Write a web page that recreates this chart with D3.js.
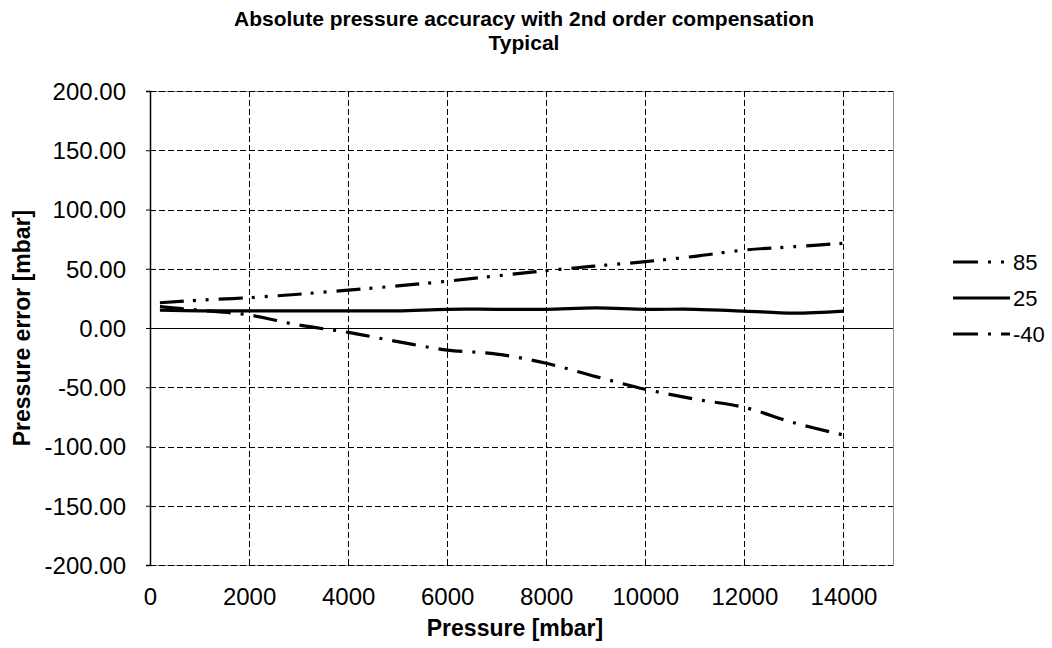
<!DOCTYPE html>
<html>
<head>
<meta charset="utf-8">
<script src="https://cdn.jsdelivr.net/npm/d3@7"></script>
<style>
  body { margin: 0; background: #fff; }
  text { font-family: "Liberation Sans", Arial, sans-serif; fill: #000; }
</style>
</head>
<body>
<div id="chart"></div>
<script>
// Data
const pressure = [200, 1000, 2000, 3000, 4000, 5000, 6000, 7000, 8000, 9000, 10000, 11000, 12000, 13000, 14000];
const err85 = [21.3, 23.5, 25.6, 28.5, 32, 35.5, 39.5, 44, 48.4, 52.3, 56, 60.5, 65.8, 68.6, 71.5];
const err25 = [15, 14.5, 14.5, 14.5, 14.5, 14.5, 15.8, 15.8, 15.8, 17, 15.8, 15.8, 14.3, 12.5, 14.3];
const errM40 = [18, 15, 11, 2.5, -3.7, -11.5, -18.6, -22, -29.8, -41, -51.7, -60, -67, -80, -90.3];
const seriesNames = ["85", "25", "-40"];
const xTicks = [0, 2000, 4000, 6000, 8000, 10000, 12000, 14000];
const yTicks = [-200, -150, -100, -50, 0, 50, 100, 150, 200];

const width = 1052, height = 648;
const plotLeft = 150, plotRight = 893, plotTop = 91, plotBottom = 565;

// plain hyphen for negatives, like the original
const locale = d3.formatLocale({ decimal: ".", thousands: ",", grouping: [3], currency: ["", ""], minus: "-" });

const svg = d3.select("#chart")
    .append("svg")
    .attr("width", width)
    .attr("height", height);

const x = d3.scaleLinear().domain([0, 15000]).range([plotLeft, plotRight]);
const y = d3.scaleLinear().domain([-200, 200]).range([plotBottom, plotTop]);
const crisp = v => Math.round(v) + 0.5;

// plot border (grey)
svg.append("rect")
    .attr("x", plotLeft + 0.5).attr("y", plotTop + 0.5)
    .attr("width", plotRight - plotLeft).attr("height", plotBottom - plotTop)
    .attr("fill", "none").attr("stroke", "#8c8c8c").attr("stroke-width", 1);

// horizontal grid
svg.append("g")
    .selectAll("line")
    .data(yTicks.filter(d => d !== 0))
    .enter().append("line")
    .attr("x1", plotLeft).attr("x2", plotRight)
    .attr("y1", d => crisp(y(d))).attr("y2", d => crisp(y(d)))
    .attr("stroke", "#000").attr("stroke-width", 1)
    .attr("stroke-dasharray", "6,3");

// vertical grid
svg.append("g")
    .selectAll("line")
    .data(xTicks.filter(d => d !== 0))
    .enter().append("line")
    .attr("x1", d => crisp(x(d))).attr("x2", d => crisp(x(d)))
    .attr("y1", plotTop).attr("y2", plotBottom)
    .attr("stroke", "#000").attr("stroke-width", 1)
    .attr("stroke-dasharray", "6,3");

// zero line
svg.append("line")
    .attr("x1", plotLeft).attr("x2", plotRight)
    .attr("y1", crisp(y(0))).attr("y2", crisp(y(0)))
    .attr("stroke", "#000").attr("stroke-width", 1.2);

// y axis
const yAxis = svg.append("g")
    .attr("transform", `translate(${plotLeft},0)`)
    .call(d3.axisLeft(y).tickValues(yTicks).tickFormat(locale.format(".2f")).tickSize(4).tickPadding(20));
yAxis.select(".domain").attr("stroke", "#000").attr("stroke-width", 1.5);
yAxis.selectAll("text").style("font-size", "24px").attr("dy", "0.35em");

// x axis labels (low position)
const xAxis = svg.append("g")
    .attr("transform", `translate(0,${plotBottom})`)
    .call(d3.axisBottom(x).tickValues(xTicks).tickFormat(locale.format("d")).tickSize(0).tickPadding(23));
xAxis.select(".domain").remove();
xAxis.selectAll("text").style("font-size", "24px");

// series
const line = d3.line()
    .x(d => x(d[0]))
    .y(d => y(d[1]))
    .curve(d3.curveCatmullRom.alpha(0.5));

const dash85 = "24,9,3,10,3,10";
const dashM40 = "24,10,3,10";
const series = [
    { name: seriesNames[0], values: err85, dash: dash85 },
    { name: seriesNames[1], values: err25, dash: null },
    { name: seriesNames[2], values: errM40, dash: dashM40 }
];

svg.append("g")
    .selectAll("path")
    .data(series)
    .enter().append("path")
    .attr("d", s => line(pressure.map((p, i) => [p, s.values[i]])))
    .attr("fill", "none")
    .attr("stroke", "#000")
    .attr("stroke-width", 3.2)
    .attr("stroke-dasharray", s => s.dash);

// legend
const legend = svg.append("g")
    .selectAll("g")
    .data(series)
    .enter().append("g")
    .attr("transform", (s, i) => `translate(953,${262 + i * 36})`);
legend.append("line")
    .attr("x1", 0).attr("x2", 57)
    .attr("y1", 0).attr("y2", 0)
    .attr("stroke", "#000").attr("stroke-width", 3.2)
    .attr("stroke-dasharray", (s, i) => i === 0 ? "25,10,3,10,3,10" : (i === 2 ? "25,10,3,10,30" : null));
legend.append("text")
    .attr("x", 60).attr("y", 0).attr("dy", "0.35em")
    .style("font-size", "22px")
    .text(s => s.name);

// titles
svg.append("text")
    .attr("x", 524).attr("y", 26)
    .attr("text-anchor", "middle")
    .style("font-size", "21px").style("font-weight", "bold")
    .text("Absolute pressure accuracy with 2nd order compensation");
svg.append("text")
    .attr("x", 524).attr("y", 50)
    .attr("text-anchor", "middle")
    .style("font-size", "21px").style("font-weight", "bold")
    .text("Typical");

svg.append("text")
    .attr("x", 515).attr("y", 636)
    .attr("text-anchor", "middle")
    .style("font-size", "23px").style("font-weight", "bold")
    .text("Pressure [mbar]");

svg.append("text")
    .attr("transform", "translate(30,328) rotate(-90)")
    .attr("text-anchor", "middle")
    .style("font-size", "23px").style("font-weight", "bold")
    .text("Pressure error [mbar]");
</script>
</body>
</html>
